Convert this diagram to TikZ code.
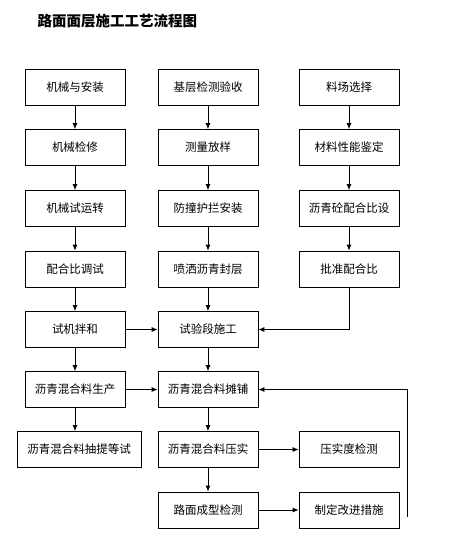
\documentclass[tikz,border=0pt]{standalone}
\usepackage{fontspec}
\newfontfamily\cjk{Noto Sans CJK SC}
\usetikzlibrary{arrows.meta}
\begin{document}
\begin{tikzpicture}[x=1pt,y=-1pt,line width=0.8pt,
		box/.style={draw,minimum width=100pt,minimum height=36pt,inner sep=0pt,font=\cjk\fontsize{11.5}{13}\selectfont},
		>={Latex[length=6pt,width=5pt]}]
		\useasboundingbox[fill=white] (0,0) rectangle (468,560);
		\node[anchor=west,font=\cjk\bfseries\fontsize{14.5}{16}\selectfont] (title) at (34,21) {路面面层施工工艺流程图};
		% left column
		\node[box] (a1) at (75,87.5) {机械与安装};
		\node[box] (a2) at (75,147.5) {机械检修};
		\node[box] (a3) at (75,208.5) {机械试运转};
		\node[box] (a4) at (75,269) {配合比调试};
		\node[box] (a5) at (75,329.5) {试机拌和};
		\node[box] (a6) at (75,389.5) {沥青混合料生产};
		\node[box,minimum width=124pt] (a7) at (79,449.5) {沥青混合料抽提等试};
		% middle column
		\node[box] (b1) at (208,87.5) {基层检测验收};
		\node[box] (b2) at (208,147.5) {测量放样};
		\node[box] (b3) at (208,208.5) {防撞护拦安装};
		\node[box] (b4) at (208,269) {喷洒沥青封层};
		\node[box] (b5) at (208,329.5) {试验段施工};
		\node[box] (b6) at (208,389.5) {沥青混合料摊铺};
		\node[box] (b7) at (208,449.5) {沥青混合料压实};
		\node[box] (b8) at (208,510) {路面成型检测};
		% right column
		\node[box] (c1) at (349,87.5) {料场选择};
		\node[box] (c2) at (349,147.5) {材料性能鉴定};
		\node[box] (c3) at (349,208.5) {沥青砼配合比设};
		\node[box] (c4) at (349,269) {批准配合比};
		\node[box] (c5) at (349,449.5) {压实度检测};
		\node[box] (c6) at (349,510) {制定改进措施};
		\coordinate (fb) at (407,517);
		% arrows
		\draw[->] (a1) -- (a2);
		\draw[->] (a2) -- (a3);
		\draw[->] (a3) -- (a4);
		\draw[->] (a4) -- (a5);
		\draw[->] (a5) -- (a6);
		\draw[->] (a6.south) -- (a6.south |- a7.north);
		\draw[->] (b1) -- (b2);
		\draw[->] (b2) -- (b3);
		\draw[->] (b3) -- (b4);
		\draw[->] (b4) -- (b5);
		\draw[->] (b5) -- (b6);
		\draw[->] (b6) -- (b7);
		\draw[->] (b7) -- (b8);
		\draw[->] (c1) -- (c2);
		\draw[->] (c2) -- (c3);
		\draw[->] (c3) -- (c4);
		\draw[->] (c4.south) |- (b5.east);
		\draw[->] (a5) -- (b5);
		\draw[->] (a6) -- (b6);
		\draw[->] (b7) -- (c5);
		\draw[->] (b8) -- (c6);
		\draw[->] (fb) |- (b6.east);
	\end{tikzpicture}
\end{document}
